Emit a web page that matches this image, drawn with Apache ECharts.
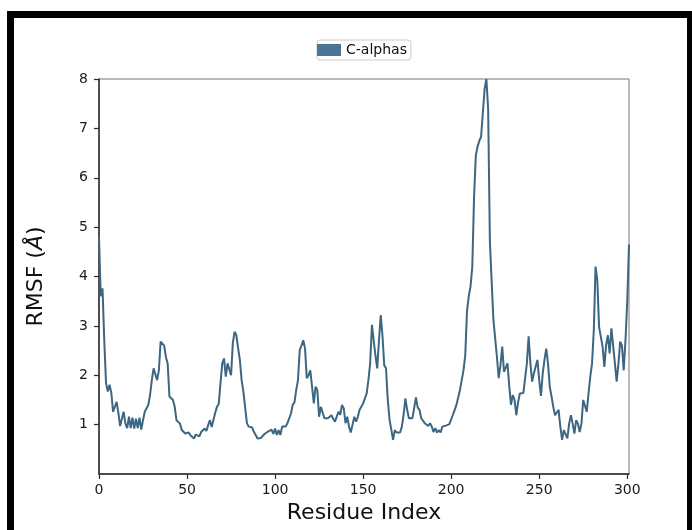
<!DOCTYPE html>
<html>
<head>
<meta charset="utf-8">
<script src="https://cdn.jsdelivr.net/npm/echarts@6/dist/echarts.min.js"></script>
<style>
html,body{margin:0;padding:0;background:#fff;}
#c{width:692px;height:530px;}
</style>
</head>
<body>
<div id="c"></div>
<script>
// Residue indices and RMSF values (Å)
const residues = [
  0,1,2,3,4,5,6,7,8,9,10,11,12,13,14,15,16,17,18,19,20,21,22,23,24,25,26,27,28,29,
  30,31,32,33,34,35,36,37,38,39,40,41,42,43,44,45,46,47,48,49,50,51,52,53,54,55,56,57,58,59,
  60,61,62,63,64,65,66,67,68,69,70,71,72,73,74,75,76,77,78,79,80,81,82,83,84,85,86,87,88,89,
  90,91,92,93,94,95,96,97,98,99,100,101,102,103,104,105,106,107,108,109,110,111,112,113,114,115,116,117,118,119,
  120,121,122,123,124,125,126,127,128,129,130,131,132,133,134,135,136,137,138,139,140,141,142,143,144,145,146,147,148,149,
  150,151,152,153,154,155,156,157,158,159,160,161,162,163,164,165,166,167,168,169,170,171,172,173,174,175,176,177,178,179,
  180,181,182,183,184,185,186,187,188,189,190,191,192,193,194,195,196,197,198,199,200,201,202,203,204,205,206,207,208,209,
  210,211,212,213,214,215,216,217,218,219,220,221,222,223,224,225,226,227,228,229,230,231,232,233,234,235,236,237,238,239,
  240,241,242,243,244,245,246,247,248,249,250,251,252,253,254,255,256,257,258,259,260,261,262,263,264,265,266,267,268,269,
  270,271,272,273,274,275,276,277,278,279,280,281,282,283,284,285,286,287,288,289,290,291,292,293,294,295,296,297,298,299,
  300,301
];
const rmsf = [
  4.80,3.60,3.76,2.70,1.84,1.67,1.81,1.64,1.26,1.26,1.46,1.24,0.97,1.12,1.26,1.02,0.93,1.16,0.93,1.14,0.92,1.12,0.93,1.14,0.90,1.09,1.26,1.26,1.40,1.60,
  1.90,2.14,2.15,1.90,2.10,2.68,2.68,2.60,2.37,2.24,1.57,1.55,1.50,1.36,1.09,1.09,1.02,0.89,0.88,0.82,0.80,0.84,0.78,0.75,0.72,0.80,0.83,0.76,0.85,0.89,
  0.92,0.87,0.99,1.09,0.95,1.10,1.24,1.36,1.42,1.84,2.24,2.34,1.97,2.24,2.26,2.00,2.65,2.88,2.81,2.55,2.31,1.90,1.67,1.65,1.03,0.96,0.97,0.94,0.85,0.79,
  0.72,0.75,0.73,0.76,0.81,0.82,0.86,0.90,0.90,0.81,0.92,0.79,0.89,0.79,0.96,0.99,0.96,1.03,1.06,1.22,1.40,1.45,1.70,1.90,2.51,2.60,2.71,2.55,1.94,2.00,
  2.10,1.77,1.43,1.77,1.70,1.16,1.36,1.36,1.13,1.17,1.13,1.16,1.19,1.12,1.06,1.06,1.26,1.20,1.40,1.33,1.03,1.16,0.96,0.84,1.00,1.16,1.06,1.16,1.30,1.36,
  1.43,1.45,1.63,1.90,2.24,3.02,2.70,2.40,2.14,2.70,3.22,2.80,2.20,2.14,1.50,1.10,0.90,0.69,0.89,0.84,0.82,0.84,0.96,1.20,1.53,1.30,1.13,1.13,1.13,1.13,
  1.55,1.35,1.30,1.13,1.10,1.03,1.03,0.97,1.03,0.96,0.85,0.93,0.84,0.89,0.84,0.96,0.92,0.98,1.01,1.01,1.01,1.20,1.30,1.40,1.55,1.70,1.90,2.10,2.40,3.30,
  3.60,3.80,4.20,5.60,6.45,6.63,6.75,6.83,6.85,7.80,8.00,7.40,4.70,3.90,3.12,3.12,2.37,1.94,2.20,2.58,2.07,2.10,2.24,1.77,1.40,1.60,1.50,1.19,1.45,1.63,
  1.65,1.64,1.64,2.24,2.79,2.24,1.87,2.04,2.08,2.31,1.90,1.58,2.04,2.31,2.54,2.24,1.77,1.57,1.36,1.19,1.19,1.30,0.96,0.69,0.89,0.92,0.72,1.02,1.19,1.02,
  0.82,1.09,1.02,0.85,1.02,1.50,1.52,1.26,1.63,1.97,2.24,2.90,4.20,3.93,2.98,2.95,2.58,2.17,2.61,2.81,2.44,2.95,2.60,2.61,1.87,2.24,2.68,2.60,2.10,2.71,
  3.50,4.65
];
const xTicks = [0, 50, 100, 150, 200, 250, 300];
const yTicks = [1, 2, 3, 4, 5, 6, 7, 8];
const seriesName = 'C-alphas';

const points = residues.map((r, i) => [r, rmsf[i]]);

const chart = echarts.init(document.getElementById('c'), null, {renderer: 'canvas'});
const font = 'DejaVu Sans';
chart.setOption({
  backgroundColor: '#ffffff',
  animation: false,
  textStyle: {fontFamily: font},
  graphic: [
    {type: 'rect', shape: {x: 7, y: 11, width: 685, height: 7}, style: {fill: '#000'}, z: 100},
    {type: 'rect', shape: {x: 7, y: 11, width: 7, height: 519}, style: {fill: '#000'}, z: 100},
    {type: 'rect', shape: {x: 687, y: 11, width: 5, height: 519}, style: {fill: '#000'}, z: 100}
  ],
  legend: {
    top: 40,
    left: 317,
    data: [{name: seriesName, itemStyle: {color: '#4b7693'}}],
    icon: 'rect',
    itemWidth: 24,
    itemHeight: 12,
    padding: [3, 4, 3, 0],
    borderColor: '#cccccc',
    borderWidth: 1,
    borderRadius: 3,
    backgroundColor: '#fff',
    textStyle: {fontFamily: font, fontSize: 14, color: '#111'}
  },
  grid: {
    left: 99, right: 63, top: 79, bottom: 56,
    show: true, borderColor: '#777', borderWidth: 1, backgroundColor: 'transparent'
  },
  xAxis: {
    type: 'value',
    min: 0, max: 301,
    interval: 50,
    name: 'Residue Index',
    nameLocation: 'middle',
    nameGap: 28,
    nameTextStyle: {fontFamily: font, fontSize: 22, color: '#111'},
    axisLine: {show: true, lineStyle: {color: '#2b2b2b', width: 1.5}},
    axisTick: {show: true, length: 5, lineStyle: {color: '#2b2b2b', width: 1.2}},
    axisLabel: {
      margin: 9, fontFamily: font, fontSize: 14, color: '#1a1a1a',
      showMaxLabel: false,
      formatter: v => xTicks.includes(v) ? String(v) : ''
    },
    splitLine: {show: false}
  },
  yAxis: {
    type: 'value',
    min: 0, max: 8,
    interval: 1,
    name: '{n|RMSF (}{i|Å}{n|)}',
    nameLocation: 'middle',
    nameGap: 52,
    nameRotate: 90,
    nameTextStyle: {
      fontFamily: font, fontSize: 22, color: '#111',
      rich: {
        n: {fontFamily: font, fontSize: 22, color: '#111'},
        i: {fontFamily: font, fontSize: 22, fontStyle: 'italic', color: '#111'}
      }
    },
    axisLine: {show: true, lineStyle: {color: '#2b2b2b', width: 1.5}},
    axisTick: {show: true, length: 5, lineStyle: {color: '#2b2b2b', width: 1.2}},
    axisLabel: {
      margin: 11, fontFamily: font, fontSize: 14, color: '#1a1a1a',
      showMinLabel: false,
      formatter: v => yTicks.includes(v) ? String(v) : ''
    },
    splitLine: {show: false}
  },
  series: [{
    name: seriesName,
    type: 'line',
    data: points,
    showSymbol: false,
    symbol: 'none',
    lineStyle: {color: '#3d6682', width: 2},
    itemStyle: {color: '#4b7693'},
    clip: false
  }]
});
</script>
</body>
</html>
